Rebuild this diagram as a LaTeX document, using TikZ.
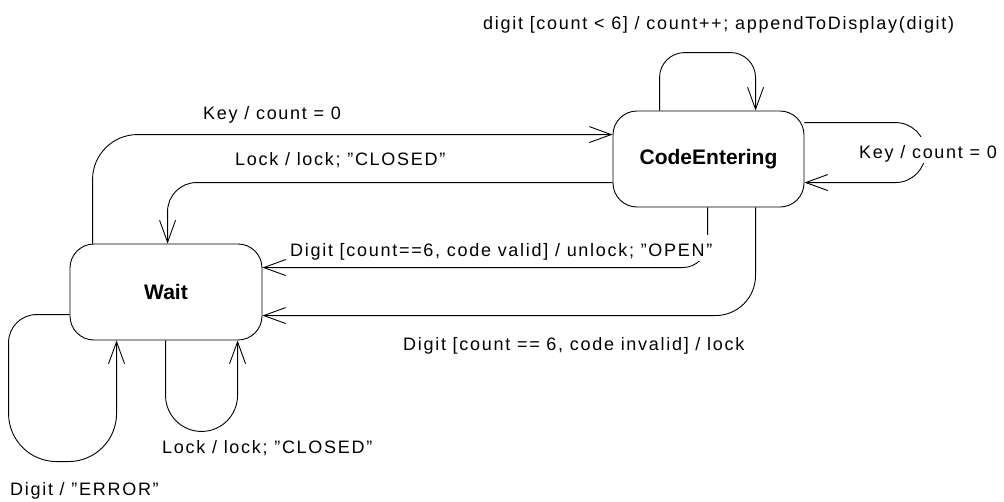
\documentclass[tikz,border=0pt]{standalone}
\usepackage{fontspec}
\setmainfont{Liberation Sans}
\newfontfamily\lblfont[LetterSpace=9.5]{Liberation Sans}
\usetikzlibrary{arrows.meta,calc}
\begin{document}
\begin{tikzpicture}[x=1pt,y=-1pt,
  state/.style={draw, line width=0.9pt, rounded corners=24pt, font=\fontsize{21}{25}\selectfont\bfseries},
  tr/.style={draw, line width=0.9pt, -{Straight Barb[length=22pt,width=16pt,line width=0.9pt]}},
  lbl/.style={anchor=base west, fill=white, inner xsep=2pt, inner ysep=2pt, text height=19pt, text depth=3pt, font=\lblfont\fontsize{18}{21}\selectfont}]
\useasboundingbox (0,0) rectangle (1004,501);
\node[state, minimum width=191pt, minimum height=96pt] (C) at (708.5,159) {CodeEntering};
\node[state, minimum width=192pt, minimum height=96pt] (W) at (166,292) {Wait};
% Key / count = 0 : Wait -> CodeEntering
\draw[tr, rounded corners=45pt] ($(W.north west)+(23,0)$) |- ($(C.north west)+(0,24)$);
% Lock : CodeEntering -> Wait
\draw[tr, rounded corners=29pt] ($(C.north west)+(0,72)$) -| ($(W.north west)+(98,0)$);
% Digit valid
\draw[tr, rounded corners=25pt] ($(C.south west)+(95,0)$) |- ($(W.north east)+(0,24)$);
% Digit invalid
\draw[tr, rounded corners=40pt] ($(C.south west)+(143,0)$) |- ($(W.north east)+(0,72)$);
% top self loop
\draw[tr, rounded corners=25pt] ($(C.north west)+(47,0)$) -- ++(0,-58) -- ++(96,0) -- ($(C.north west)+(143,0)$);
% right self loop
\draw[tr, rounded corners=30pt] ($(C.north east)+(0,12)$) -- ++(121,0) -- ++(0,60) -- ($(C.north east)+(0,72)$);
% Wait loop Digit / ERROR
\draw[tr, rounded corners=28pt] ($(W.north west)+(0,71)$) -- ++(-61,0) [rounded corners=48pt] -- ++(0,147) -- ++(108,0) -- ($(W.south west)+(47,0)$);
% Wait loop Lock
\draw[tr, rounded corners=36pt] ($(W.south west)+(96,0)$) -- ++(0,91) -- ++(72,0) -- ($(W.south west)+(168,0)$);
% labels
\node[lbl] (l1) at (481,29) {digit [count < 6] / count++; appendToDisplay(digit)};
\node[lbl] (l2) at (201,119) {Key / count = 0};
\node[lbl] (l3) at (233,165) {Lock / lock; ”CLOSED”};
\node[lbl] (l4) at (857,158) {Key / count = 0};
\node[lbl] (l5) at (288,256) {Digit [count==6, code valid] / unlock; ”OPEN”};
\node[lbl] (l6) at (401,350) {Digit [count == 6, code invalid] / lock};
\node[lbl] (l7) at (160,453) {Lock / lock; ”CLOSED”};
\node[lbl] (l8) at (8,495) {Digit / ”ERROR”};
\end{tikzpicture}
\end{document}
